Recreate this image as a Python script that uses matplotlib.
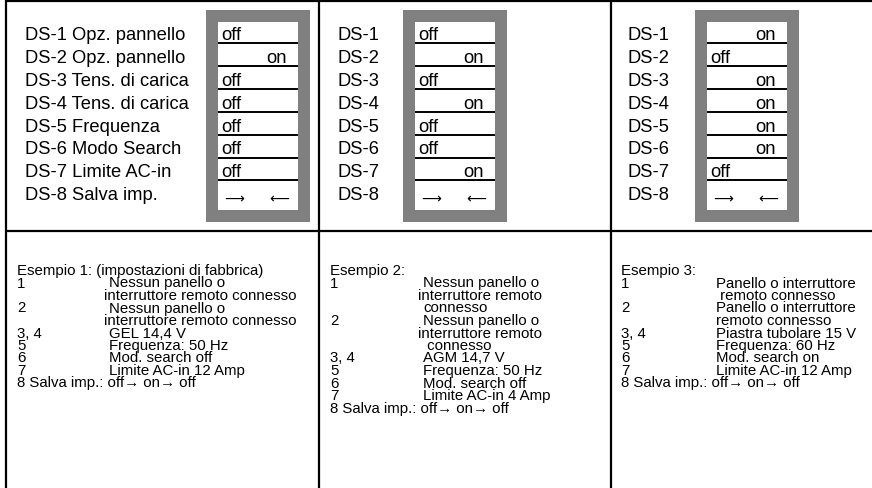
import matplotlib
matplotlib.use("Agg")
import matplotlib.pyplot as plt
from matplotlib.patches import Rectangle

# ---------------- data ----------------
labels_ex1 = ["DS-1 Opz. pannello", "DS-2 Opz. pannello", "DS-3 Tens. di carica",
              "DS-4 Tens. di carica", "DS-5 Frequenza", "DS-6 Modo Search",
              "DS-7 Limite AC-in", "DS-8 Salva imp."]
labels_short = ["DS-1", "DS-2", "DS-3", "DS-4", "DS-5", "DS-6", "DS-7", "DS-8"]

states_ex1 = ["off", "on", "off", "off", "off", "off", "off"]
states_ex2 = ["off", "on", "off", "on", "off", "off", "on"]
states_ex3 = ["on", "off", "on", "on", "on", "on", "off"]

title_ex1 = "Esempio 1: (impostazioni di fabbrica)"
title_ex2 = "Esempio 2:"
title_ex3 = "Esempio 3:"

# (number column, description column) per line
notes_ex1 = [("1", "Nessun panello o"), ("", "interruttore remoto connesso"),
             ("2", "Nessun panello o"), ("", "interruttore remoto connesso"),
             ("3, 4", "GEL 14,4 V"), ("5", "Frequenza: 50 Hz"),
             ("6", "Mod. search off"), ("7", "Limite AC-in 12 Amp")]
notes_ex2 = [("1", "Nessun panello o"), ("", "interruttore remoto"), ("", "connesso"),
             ("2", "Nessun panello o"), ("", "interruttore remoto"), ("", " connesso"),
             ("3, 4", "AGM 14,7 V"), ("5", "Frequenza: 50 Hz"),
             ("6", "Mod. search off"), ("7", "Limite AC-in 4 Amp")]
notes_ex3 = [("1", "Panello o interruttore"), ("", " remoto connesso"),
             ("2", "Panello o interruttore"), ("", "remoto connesso"),
             ("3, 4", "Piastra tubolare 15 V"), ("5", "Frequenza: 60 Hz"),
             ("6", "Mod. search on"), ("7", "Limite AC-in 12 Amp")]
save_line = "8 Salva imp.: off\u2192 on\u2192 off"

# ---------------- layout ----------------
W, H = 872, 489
fig = plt.figure(figsize=(W / 100, H / 100), dpi=100)
ax = fig.add_axes([0, 0, 1, 1])
ax.set_xlim(0, W)
ax.set_ylim(H, 0)
ax.axis("off")

TOP_FONT = ["Liberation Sans", "DejaVu Sans"]
BOT_FONT = ["Liberation Sans", "DejaVu Sans"]
ARROW_FONT = ["DejaVu Sans"]
top_fs = 13.2
bot_fs = 10.8
border_lw = 1.6

# frame lines
ax.plot([6, W], [1.5, 1.5], color="black", lw=border_lw, solid_capstyle="butt", clip_on=False)
ax.plot([6, W], [232, 232], color="black", lw=border_lw, solid_capstyle="butt")
for xv in [6, 319, 611]:
    ax.plot([xv, xv], [0.5, H], color="black", lw=border_lw, solid_capstyle="butt", clip_on=False)

row_pitch = 22.9
first_base = 40


def draw_switch(x0, states):
    ax.add_patch(Rectangle((x0, 11), 104, 212, facecolor="#808080", edgecolor="none"))
    ax.add_patch(Rectangle((x0 + 12, 23), 80, 188, facecolor="white", edgecolor="none"))
    for k in range(7):
        yl = 44 + row_pitch * k
        ax.plot([x0 + 12, x0 + 92], [yl, yl], color="black", lw=1.4, solid_capstyle="butt")
    for k, s in enumerate(states):
        yb = first_base + row_pitch * k
        if s == "off":
            ax.text(x0 + 15, yb, "off", ha="left", va="baseline", fontsize=top_fs, family=TOP_FONT)
        else:
            ax.text(x0 + 81, yb, "on", ha="right", va="baseline", fontsize=top_fs, family=TOP_FONT)
    yc = 199
    ax.text(x0 + 28, yc, "\u27f6", ha="center", va="center", fontsize=10, family=ARROW_FONT)
    ax.text(x0 + 73, yc, "\u27f5", ha="center", va="center", fontsize=10, family=ARROW_FONT)


def draw_labels(x, labels):
    for k, lab in enumerate(labels):
        ax.text(x, first_base + row_pitch * k, lab, ha="left", va="baseline",
                fontsize=top_fs, family=TOP_FONT)


draw_labels(25, labels_ex1)
draw_switch(206, states_ex1)
draw_labels(337, labels_short)
draw_switch(403, states_ex2)
draw_labels(627, labels_short)
draw_switch(695, states_ex3)

bot_base = 275
bot_pitch = 12.5


def draw_notes(xn, xd, title, notes):
    ax.text(xn, bot_base, title, ha="left", va="baseline", fontsize=bot_fs, family=BOT_FONT)
    for i, (num, desc) in enumerate(notes):
        yb = bot_base + bot_pitch * (i + 1)
        if num:
            ax.text(xn, yb, num, ha="left", va="baseline", fontsize=bot_fs, family=BOT_FONT)
        xx = xd - 5 if desc.startswith("interruttore") else xd
        ax.text(xx, yb, desc, ha="left", va="baseline", fontsize=bot_fs, family=BOT_FONT)
    yb = bot_base + bot_pitch * (len(notes) + 1)
    ax.text(xn, yb, save_line, ha="left", va="baseline", fontsize=bot_fs, family=BOT_FONT)


draw_notes(17, 109, title_ex1, notes_ex1)
draw_notes(330, 423, title_ex2, notes_ex2)
draw_notes(621, 716, title_ex3, notes_ex3)

fig.savefig("out.png", dpi=100, facecolor="white")
